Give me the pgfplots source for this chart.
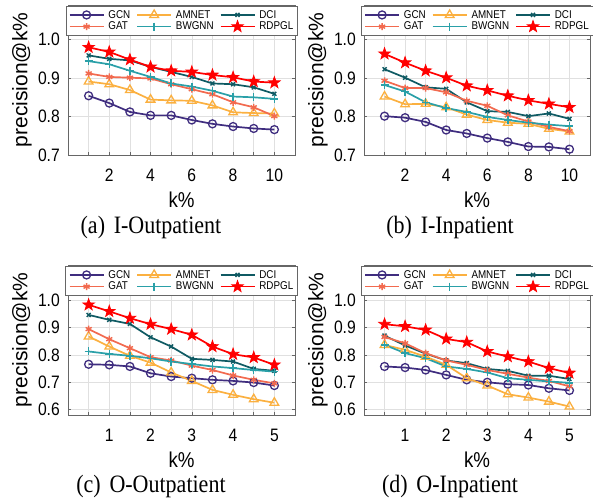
\documentclass[border=0pt]{standalone}
\usepackage{fontspec}
\setmainfont{Liberation Serif}[FakeStretch=0.88]
\newfontfamily\sfn{Liberation Sans}[FakeStretch=0.87]
\newfontfamily\sfr{Liberation Sans}
\usepackage{pgfplots}
\pgfplotsset{compat=1.18}
\usepackage{pgfplotstable}
\usetikzlibrary{plotmarks}

\definecolor{cGCN}{HTML}{3F2D7F}
\definecolor{cAMNET}{HTML}{FBB040}
\definecolor{cDCI}{HTML}{0F5A63}
\definecolor{cGAT}{HTML}{F26A4F}
\definecolor{cBWGNN}{HTML}{2AA0A8}
\definecolor{cRDPGL}{HTML}{FF0000}

% filled five-pointed star
\pgfdeclareplotmark{fstar}{%
  \pgfpathmoveto{\pgfpointpolar{90}{\pgfplotmarksize}}%
  \pgfpathlineto{\pgfpointpolar{126}{0.4\pgfplotmarksize}}%
  \pgfpathlineto{\pgfpointpolar{162}{\pgfplotmarksize}}%
  \pgfpathlineto{\pgfpointpolar{198}{0.4\pgfplotmarksize}}%
  \pgfpathlineto{\pgfpointpolar{234}{\pgfplotmarksize}}%
  \pgfpathlineto{\pgfpointpolar{270}{0.4\pgfplotmarksize}}%
  \pgfpathlineto{\pgfpointpolar{306}{\pgfplotmarksize}}%
  \pgfpathlineto{\pgfpointpolar{342}{0.4\pgfplotmarksize}}%
  \pgfpathlineto{\pgfpointpolar{18}{\pgfplotmarksize}}%
  \pgfpathlineto{\pgfpointpolar{54}{0.4\pgfplotmarksize}}%
  \pgfpathclose\pgfusepathqfillstroke}

\pgfplotstableread{
k GCN AMNET DCI GAT BWGNN RDPGL
1  0.854 0.891 0.959 0.912 0.944 0.980
2  0.835 0.884 0.950 0.903 0.936 0.968
3  0.812 0.869 0.946 0.901 0.919 0.948
4  0.803 0.844 0.929 0.899 0.903 0.929
5  0.803 0.842 0.916 0.884 0.886 0.919
6  0.791 0.841 0.903 0.871 0.878 0.916
7  0.781 0.829 0.886 0.858 0.867 0.908
8  0.774 0.811 0.884 0.837 0.852 0.902
9  0.769 0.809 0.876 0.824 0.850 0.891
10 0.766 0.808 0.859 0.801 0.846 0.888
}\tabA

\pgfplotstableread{
k GCN AMNET DCI GAT BWGNN RDPGL
1  0.801 0.852 0.923 0.893 0.882 0.963
2  0.797 0.832 0.901 0.874 0.865 0.940
3  0.786 0.833 0.876 0.874 0.837 0.919
4  0.765 0.824 0.872 0.863 0.822 0.901
5  0.756 0.805 0.837 0.841 0.812 0.880
6  0.744 0.791 0.814 0.828 0.799 0.868
7  0.734 0.784 0.812 0.803 0.791 0.854
8  0.722 0.781 0.801 0.787 0.784 0.842
9  0.721 0.768 0.808 0.773 0.779 0.833
10 0.715 0.761 0.794 0.762 0.775 0.824
}\tabB

\pgfplotstableread{
k GCN AMNET DCI GAT BWGNN RDPGL
0.5 0.766 0.868 0.947 0.895 0.813 0.984
1.0 0.764 0.831 0.929 0.858 0.804 0.960
1.5 0.758 0.797 0.914 0.825 0.797 0.935
2.0 0.733 0.772 0.865 0.792 0.788 0.913
2.5 0.721 0.736 0.831 0.780 0.776 0.895
3.0 0.715 0.705 0.786 0.761 0.767 0.874
3.5 0.709 0.672 0.782 0.745 0.758 0.831
4.0 0.705 0.654 0.776 0.725 0.752 0.803
4.5 0.699 0.638 0.749 0.709 0.745 0.791
5.0 0.688 0.625 0.742 0.696 0.739 0.764
}\tabC

\pgfplotstableread{
k GCN AMNET DCI GAT BWGNN RDPGL
0.5 0.758 0.837 0.871 0.866 0.837 0.913
1.0 0.754 0.819 0.835 0.843 0.807 0.905
1.5 0.745 0.794 0.805 0.807 0.788 0.892
2.0 0.727 0.764 0.780 0.780 0.758 0.859
2.5 0.709 0.715 0.770 0.764 0.749 0.847
3.0 0.700 0.688 0.749 0.745 0.736 0.813
3.5 0.693 0.656 0.742 0.731 0.715 0.794
4.0 0.690 0.644 0.724 0.717 0.709 0.776
4.5 0.678 0.629 0.724 0.705 0.703 0.752
5.0 0.670 0.611 0.712 0.685 0.698 0.734
}\tabD

\pgfplotsset{
  panel/.style={
    scale only axis, width=227pt, height=150pt,
    axis line style={black!60, line width=0.6pt},
    tick align=inside, major tick length=3pt,
    tick style={black!60, line width=0.5pt},
    grid=major, grid style={black!12, line width=0.5pt},
    /pgf/number format/assume math mode=true,
    tick label style={font=\sfn\fontsize{18}{18}\selectfont},
    yticklabel style={anchor=east, inner sep=0pt, xshift=-8pt,
      /pgf/number format/.cd, fixed, fixed zerofill, precision=1},
    xticklabel style={anchor=north, inner sep=0pt, yshift=-14pt},
    xlabel={k\%}, ylabel={precision@k\%},
    xlabel style={font=\sfn\fontsize{21.5}{21.5}\selectfont,
      at={(axis description cs:0.5,0)}, anchor=north, inner sep=0pt, yshift=-37pt},
    ylabel style={font=\sfr\fontsize{21}{21}\selectfont,
      at={(axis description cs:0,0.5)}, anchor=south, inner sep=0pt, yshift=36pt},
    legend columns=3,
    legend style={at={(0.5,1)}, anchor=north, yshift=-1pt,
      draw=black!60, line width=0.5pt, inner sep=3pt, row sep=0pt,
      font=\sfn\fontsize{11.3}{11.5}\selectfont,
      nodes={inner sep=1pt},
      /tikz/every odd column/.append style={column sep=3pt},
      /tikz/every even column/.append style={column sep=5pt}},
    legend cell align=left,
    legend image code/.code={\draw[mark repeat=2,mark phase=2]
      plot coordinates {(0pt,0pt) (17pt,0pt) (34pt,0pt)};},
  },
  sGCN/.style={color=cGCN, line width=1.7pt, mark=o, mark size=4pt,
    mark options={fill=white, line width=1.3pt}},
  sAMNET/.style={color=cAMNET, line width=1.7pt, mark=triangle, mark size=5pt,
    mark options={fill=white, line width=1.3pt}},
  sDCI/.style={color=cDCI, line width=1.7pt, mark=x, mark size=2.8pt,
    mark options={line width=1.4pt}},
  sGAT/.style={color=cGAT, line width=1.7pt, mark=asterisk, mark size=3.5pt,
    mark options={line width=1.4pt}},
  sBWGNN/.style={color=cBWGNN, line width=1.7pt, mark=+, mark size=4pt,
    mark options={line width=1.4pt}},
  sRDPGL/.style={color=cRDPGL, line width=1.7pt, mark=fstar, mark size=6pt,
    mark options={fill=cRDPGL, line width=0.8pt}},
}

\newcommand{\allseries}[1]{%
  \addplot[sGCN] table[x=k, y=GCN] {#1};
  \addplot[sAMNET] table[x=k, y=AMNET] {#1};
  \addplot[sDCI] table[x=k, y=DCI] {#1};
  \addplot[sGAT] table[x=k, y=GAT] {#1};
  \addplot[sBWGNN] table[x=k, y=BWGNN] {#1};
  \addplot[sRDPGL] table[x=k, y=RDPGL] {#1};
  \legend{GCN,AMNET,DCI,GAT,BWGNN,RDPGL}}

\begin{document}
\begin{tikzpicture}[x=1pt,y=1pt]
\useasboundingbox (0,0) rectangle (593,499);

\begin{axis}[panel, at={(68pt,344pt)}, anchor=south west,
  xmin=0, xmax=11, ymin=0.7, ymax=1.09,
  xtick={1,...,10}, xticklabels={,2,,4,,6,,8,,10},
  ytick={0.7,0.8,0.9,1.0}]
  \allseries{\tabA}
\end{axis}

\begin{axis}[panel, at={(364pt,344pt)}, anchor=south west, width=226pt,
  xmin=0, xmax=11, ymin=0.7, ymax=1.09,
  xtick={1,...,10}, xticklabels={,2,,4,,6,,8,,10},
  ytick={0.7,0.8,0.9,1.0}]
  \allseries{\tabB}
\end{axis}

\begin{axis}[panel, at={(68pt,84pt)}, anchor=south west,
  xmin=0, xmax=5.5, ymin=0.58, ymax=1.13,
  xtick={0.5,1,...,5}, xticklabels={,1,,2,,3,,4,,5},
  ytick={0.6,0.7,0.8,0.9,1.0}]
  \allseries{\tabC}
\end{axis}

\begin{axis}[panel, at={(364pt,84pt)}, anchor=south west, width=226pt,
  xmin=0, xmax=5.5, ymin=0.58, ymax=1.13,
  xtick={0.5,1,...,5}, xticklabels={,1,,2,,3,,4,,5},
  ytick={0.6,0.7,0.8,0.9,1.0}]
  \allseries{\tabD}
\end{axis}

\begin{scope}[font=\fontsize{25}{25}\selectfont]
\node[anchor=base, inner sep=0pt] at (151,266) {(a)\hspace{0.35em}I-Outpatient};
\node[anchor=base, inner sep=0pt] at (450,266) {(b)\hspace{0.35em}I-Inpatient};
\node[anchor=base, inner sep=0pt] at (151,7) {(c)\hspace{0.35em}O-Outpatient};
\node[anchor=base, inner sep=0pt] at (450,7) {(d)\hspace{0.35em}O-Inpatient};
\end{scope}
\end{tikzpicture}
\end{document}
